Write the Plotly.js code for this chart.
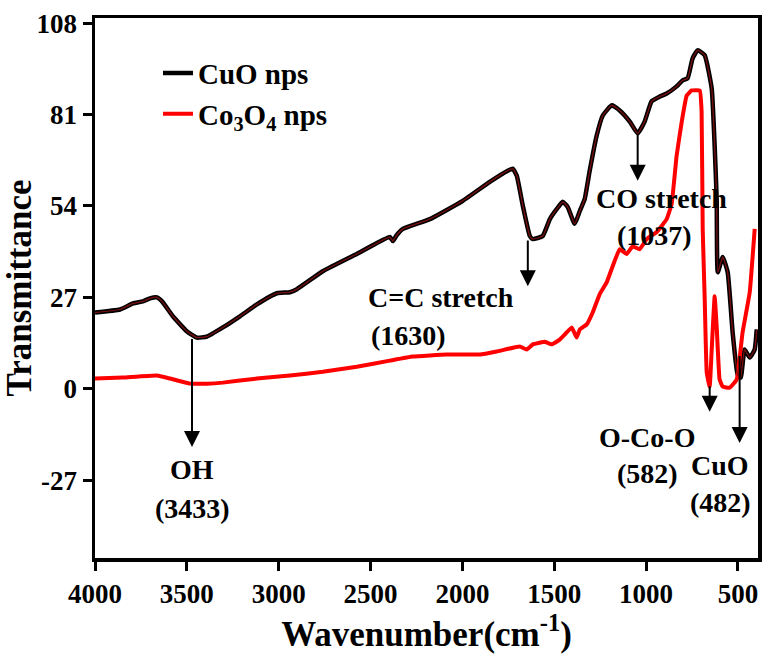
<!DOCTYPE html>
<html>
<head>
<meta charset="utf-8">
<script src="https://cdn.plot.ly/plotly-3.0.1.min.js"></script>
<style>html,body{margin:0;padding:0;background:#fff;}#chart{width:764px;height:656px;}</style>
</head>
<body>
<div id="chart"></div>
<script>
// CuO nps spectrum
const cuoWavenumber = [4000,3864,3793,3739,3701,3663,3635,3576,3499,3445,3391,3304,3211,3119,3010,2939,2901,2760,2575,2395,2379,2357,2324,2177,1998,1851,1753,1726,1704,1671,1633,1617,1563,1524,1486,1454,1427,1389,1361,1334,1307,1269,1236,1187,1144,1089,1046,1008,970,926,888,834,801,774,747,719,681,643,627,616,610,583,556,529,502,485,464,436,409,398];
const cuoTransmittance = [22.5,23.4,25.2,25.8,26.7,27.0,25.8,21.4,16.9,15.1,15.4,18.1,21.4,24.9,28.2,28.5,29.4,34.7,39.8,44.8,43.6,45.4,47.2,50.1,55.5,61.1,64.4,65.0,62.9,54.0,45.1,44.2,45.1,50.1,53.1,55.2,53.7,48.7,52.5,56.1,64.4,74.8,80.7,83.7,82.2,78.9,75.4,78.9,84.9,86.3,87.2,89.3,91.1,91.7,97.6,100.0,98.5,88.7,71.8,56.1,34.4,38.9,34.4,16.6,4.2,3.3,11.6,9.2,11.6,17.5];

// Co3O4 nps spectrum
const co3o4Wavenumber = [4000,3848,3663,3592,3483,3391,3304,3119,2939,2760,2575,2395,2270,2085,1905,1813,1688,1650,1617,1579,1552,1514,1470,1443,1405,1378,1361,1323,1291,1253,1214,1182,1144,1106,1073,1035,997,942,888,861,834,806,779,752,708,698,692,681,670,654,643,627,616,600,583,545,507,475,436,409];
const co3o4Transmittance = [3.0,3.3,3.9,3.0,1.5,1.5,1.8,3.0,3.9,5.0,6.5,8.3,9.5,10.1,10.1,11.0,12.5,11.6,13.1,13.6,13.9,13.1,14.5,16.0,18.1,15.1,17.5,19.0,22.5,27.9,31.5,36.2,41.2,39.8,42.1,41.2,44.2,46.3,50.1,54.6,68.8,78.9,86.6,88.1,88.1,81.9,47.2,26.4,4.7,0.6,11.6,27.3,18.4,2.7,0.6,0.3,2.7,16.6,28.5,47.2];

// tick labels
const xTickValues = [4000,3500,3000,2500,2000,1500,1000,500];
const yTickValues = [-27,0,27,54,81,108];

// band assignments
const bandNames = ['OH','C=C stretch','CO stretch','O-Co-O','CuO'];
const bandLabels = ['(3433)','(1630)','(1037)','(582)','(482)'];

const seriesNames = ['CuO nps','Co<sub>3</sub>O<sub>4</sub> nps'];

const serif = 'Liberation Serif, Times New Roman, serif';
const txtFont = {family: serif, size: 28, color: '#000', weight: 'bold'};

const traces = [
  {x: cuoWavenumber, y: cuoTransmittance, type: 'scatter', mode: 'lines', name: seriesNames[0],
   line: {color: '#000', width: 4.5, shape: 'spline', smoothing: 0.4}},
  {x: co3o4Wavenumber, y: co3o4Transmittance, type: 'scatter', mode: 'lines', name: seriesNames[1],
   line: {color: '#ff0000', width: 4, shape: 'spline', smoothing: 0.3}},
  {x: cuoWavenumber, y: cuoTransmittance, type: 'scatter', mode: 'lines', showlegend: false, hoverinfo: 'skip',
   line: {color: '#7a1010', width: 1.3, shape: 'spline', smoothing: 0.4}}
];

// arrow positions [x, tailY, headY]
const arrowPos = [[3472, 15.1, -17.2],[1644, 44.2, 30.3],[1046, 75.4, 61.4],[654, 1.2, -6.8],[491, 10.1, -16.0]];
// name text centres and value text centres
const namePos = [[3472,-24.0],[2117,26.8],[914,56.3],[995,-14.3],[598,-22.6]];
const valPos = [[3472,-35.3],[2296,15.8],[952,45.4],[990,-24.9],[593,-33.5]];

const annotations = [];
for (let i = 0; i < bandNames.length; i++) {
  annotations.push({x: arrowPos[i][0], y: arrowPos[i][2], ax: arrowPos[i][0], ay: arrowPos[i][1],
    xref: 'x', yref: 'y', axref: 'x', ayref: 'y', text: '', showarrow: true,
    arrowhead: 2, arrowsize: 1.6, arrowwidth: 2, arrowcolor: '#000', standoff: 0, startstandoff: 0});
  annotations.push({x: namePos[i][0], y: namePos[i][1], xref: 'x', yref: 'y', text: bandNames[i],
    showarrow: false, font: txtFont, xanchor: 'center', yanchor: 'middle'});
  annotations.push({x: valPos[i][0], y: valPos[i][1], xref: 'x', yref: 'y', text: bandLabels[i],
    showarrow: false, font: txtFont, xanchor: 'center', yanchor: 'middle'});
}

const layout = {
  width: 764, height: 656,
  margin: {l: 95, r: 6, t: 18, b: 98},
  paper_bgcolor: '#fff', plot_bgcolor: '#fff',
  showlegend: true,
  legend: {x: 0.095, y: 0.945, xanchor: 'left', yanchor: 'top', bgcolor: 'rgba(0,0,0,0)',
    font: {family: serif, size: 29, color: '#000', weight: 'bold'}, tracegroupgap: 0},
  xaxis: {
    range: [4000, 391], tickvals: xTickValues, ticktext: xTickValues.map(String),
    showgrid: false, zeroline: false, showline: true, mirror: true, linecolor: '#000', linewidth: 3.5,
    ticks: 'outside', ticklen: 9, tickwidth: 3, tickcolor: '#000',
    tickfont: {family: serif, size: 27, color: '#000', weight: 'bold'},
    title: {text: 'Wavenumber(cm<sup>-1</sup>)', font: {family: serif, size: 35, color: '#000', weight: 'bold'}, standoff: 8}
  },
  yaxis: {
    range: [-50, 109.5], tickvals: yTickValues, ticktext: yTickValues.map(String),
    showgrid: false, zeroline: false, showline: true, mirror: true, linecolor: '#000', linewidth: 3.5,
    ticks: 'outside', ticklen: 9, tickwidth: 3, tickcolor: '#000',
    tickfont: {family: serif, size: 27, color: '#000', weight: 'bold'},
    title: {text: 'Transmittance', font: {family: serif, size: 35, color: '#000', weight: 'bold'}, standoff: 6}
  },
  annotations: annotations
};

Plotly.newPlot('chart', traces, layout, {displayModeBar: false, staticPlot: true});
</script>
</body>
</html>
